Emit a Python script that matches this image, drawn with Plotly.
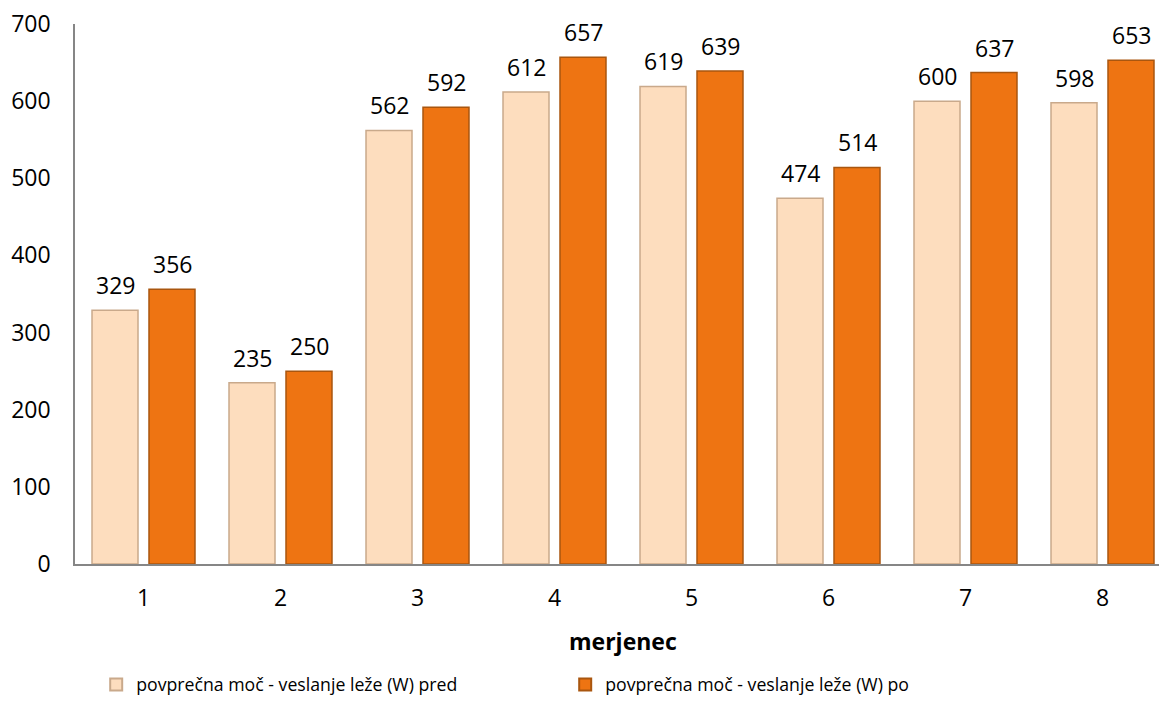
import plotly.graph_objects as go

# Average rowing power per subject, before and after
merjenec = [1, 2, 3, 4, 5, 6, 7, 8]
pred = [329, 235, 562, 612, 619, 474, 600, 598]
po = [356, 250, 592, 657, 639, 514, 637, 653]
y_ticks = [0, 100, 200, 300, 400, 500, 600, 700]

name_pred = "povprečna moč - veslanje leže (W) pred"
name_po = "povprečna moč - veslanje leže (W) po"

FONT = "Open Sans"
TXT = "#000000"
SIZE = 23

fig = go.Figure()
fig.add_trace(go.Bar(
    x=merjenec, y=pred, name=name_pred,
    marker=dict(color="#FDDDBE", line=dict(color="#C9A98B", width=1.5)),
))
fig.add_trace(go.Bar(
    x=merjenec, y=po, name=name_po,
    marker=dict(color="#EE7412", line=dict(color="#A9560F", width=1.5)),
))

# value labels above each bar
for xs, vals, shift in ((merjenec, pred, -28.5), (merjenec, po, 28.5)):
    for xv, v in zip(xs, vals):
        fig.add_annotation(
            x=xv, y=v, text=str(v), showarrow=False,
            xref="x", yref="y", xshift=shift, yshift=25, yanchor="middle",
            font=dict(family=FONT, size=SIZE, color=TXT),
        )

# axis title
fig.add_annotation(
    x=4.5, y=-77 / 540, xref="x", yref="paper", text="<b>merjenec</b>",
    showarrow=False, yanchor="middle",
    font=dict(family=FONT, size=SIZE, color=TXT),
)

fig.update_layout(
    width=1159, height=724,
    margin=dict(l=75, r=0, t=24, b=160),
    paper_bgcolor="white", plot_bgcolor="white",
    barmode="group", bargap=0.168, bargroupgap=0.193,
    showlegend=True,
    legend=dict(
        orientation="h", xref="container", yref="container",
        x=0.083, y=39 / 724, xanchor="left", yanchor="middle",
        font=dict(family=FONT, size=17.7, color=TXT),
        entrywidth=424, entrywidthmode="pixels", itemsizing="constant",
    ),
    font=dict(family=FONT, size=SIZE, color=TXT),
)
fig.update_xaxes(
    range=[0.5, 0.5 + 1084 / 137], tickvals=merjenec,
    showline=True, linecolor="#868686", linewidth=1.5, showgrid=False,
    ticks="", ticklabelstandoff=13, zeroline=False,
    tickfont=dict(family=FONT, size=SIZE, color=TXT),
)
fig.update_yaxes(
    range=[0, 700], tickvals=y_ticks,
    showline=True, linecolor="#868686", linewidth=1.5, showgrid=False,
    ticks="", ticklabelstandoff=18, zeroline=False,
    tickfont=dict(family=FONT, size=SIZE, color=TXT),
)

fig.write_html("out.html")
